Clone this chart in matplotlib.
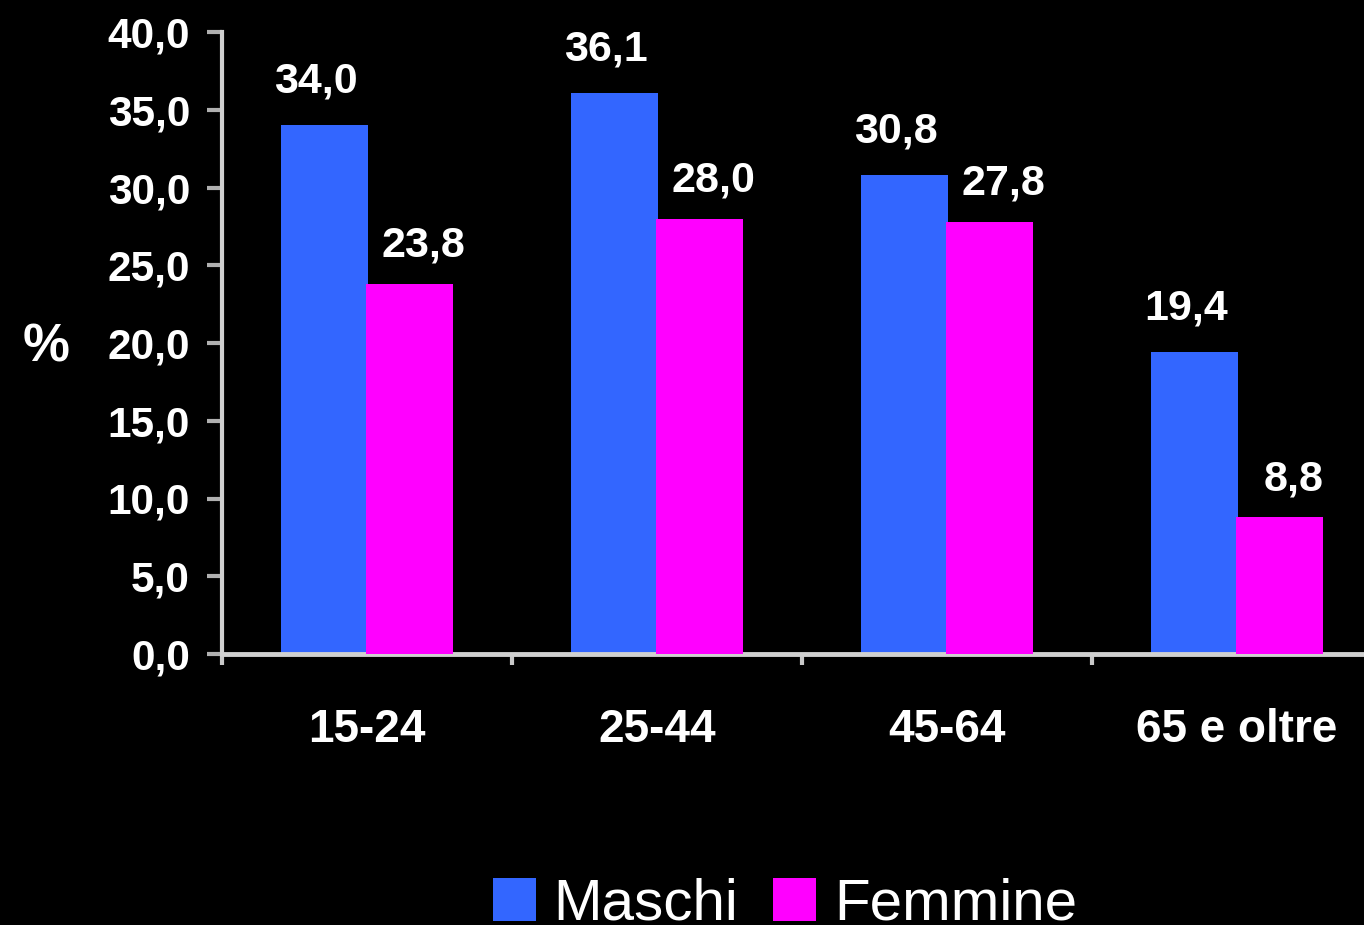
import matplotlib
matplotlib.use("Agg")
import matplotlib.pyplot as plt
from matplotlib.patches import Patch
import numpy as np

categories = ["15-24", "25-44", "45-64", "65 e oltre"]
maschi = [34.0, 36.1, 30.8, 19.4]
femmine = [23.8, 28.0, 27.8, 8.8]
series_names = ["Maschi", "Femmine"]
yticks = [0, 5, 10, 15, 20, 25, 30, 35, 40]

plt.rcParams['font.family'] = ['Liberation Sans', 'DejaVu Sans']

BLUE = "#3366FF"
MAG = "#FF00FF"

fig = plt.figure(figsize=(13.64, 9.25), dpi=100, facecolor="black")
ax = fig.add_axes([222/1364, 1-654/925, 1160/1364, (654-32)/925])
ax.set_facecolor("black")

x = np.arange(len(categories))
w = 0.30
off = 0.145
bm = ax.bar(x - off, maschi, w, color=BLUE, zorder=2)
bf = ax.bar(x + off, femmine, w, color=MAG, zorder=3)

def fmt(v):
    return f"{v:.1f}".replace(".", ",")

for rect, v in zip(bm, maschi):
    ax.annotate(fmt(v), (rect.get_x() + rect.get_width()/2 - 0.03, v),
                xytext=(0, 17), textcoords="offset points", ha="center", va="bottom",
                color="white", fontsize=31, fontweight="bold", zorder=5)
for rect, v in zip(bf, femmine):
    ax.annotate(fmt(v), (rect.get_x() + rect.get_width()/2 + 0.05, v),
                xytext=(0, 13), textcoords="offset points", ha="center", va="bottom",
                color="white", fontsize=31, fontweight="bold", zorder=5)

ax.set_xlim(-0.5, 3.5)
ax.set_ylim(0, 40)
ax.set_yticks(yticks)
ax.set_yticklabels([fmt(t) for t in yticks], fontsize=30.5, fontweight="bold", color="white")
ax.set_xticks(x)
ax.set_xticklabels(categories, fontsize=33, fontweight="bold", color="white")
ax.set_xticks([-0.5, 0.5, 1.5, 2.5], minor=True)
ax.tick_params(axis="x", which="major", length=0, pad=39)
ax.tick_params(axis="x", which="minor", length=8, width=3, color="#C8C8C8", direction="out")
ax.tick_params(axis="y", length=11, width=3, color="#B0B0B0", pad=12)

for s in ["top", "right"]:
    ax.spines[s].set_visible(False)
ax.spines["left"].set_color("#D0D0D0")
ax.spines["left"].set_linewidth(3)
ax.spines["bottom"].set_color("#D0D0D0")
ax.spines["bottom"].set_linewidth(3.5)

fig.text(46/1364, 1-347/925, "%", color="white", fontsize=38, fontweight="bold",
         ha="center", va="center")

handles = [Patch(facecolor=BLUE, edgecolor="none"), Patch(facecolor=MAG, edgecolor="none")]
leg = fig.legend(handles, series_names, loc="center", bbox_to_anchor=(785/1364, 1-905/925),
                 ncol=2, frameon=False, fontsize=42, handlelength=0.74, handleheight=0.74,
                 handletextpad=0.3, columnspacing=0.6, borderaxespad=0)
for t in leg.get_texts():
    t.set_color("white")

fig.savefig("out.png", dpi=100, facecolor="black")
